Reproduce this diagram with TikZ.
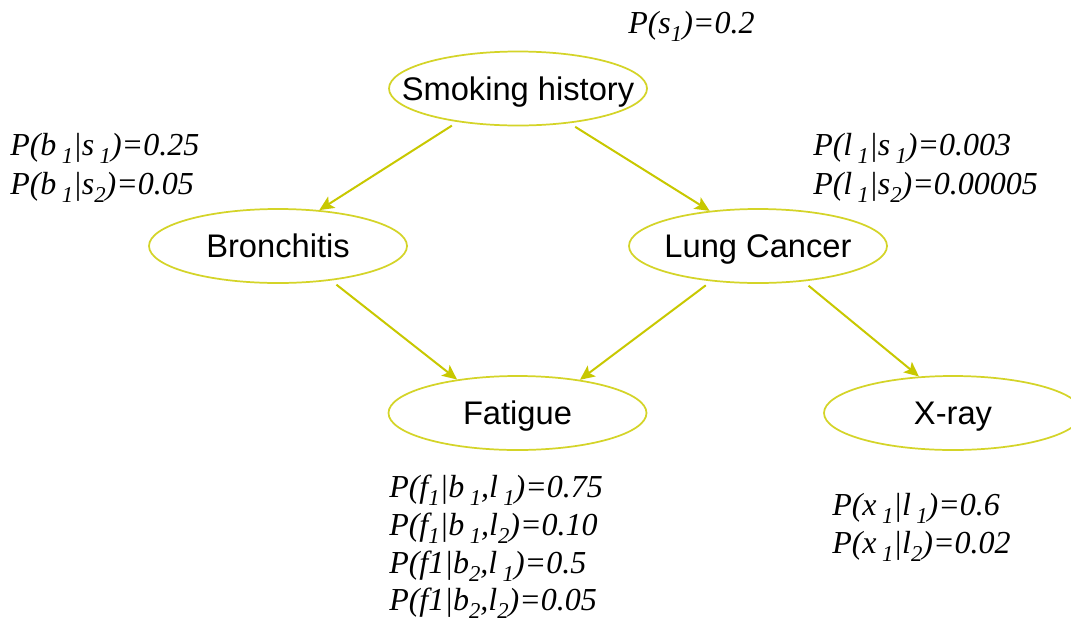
\documentclass[tikz,border=0pt]{standalone}
\usepackage{fontspec}
\usetikzlibrary{arrows.meta,shapes.geometric}
\setmainfont{Liberation Serif}
\newfontfamily\nodefont{Liberation Sans}
\newfontfamily\probfont{Liberation Serif}
% lowered, smaller index such as the 1 in s_1
\newcommand\idx[1]{\raisebox{-0.28em}{\fontsize{17}{17}\selectfont #1}}
% label of fixed-size ellipse: zero width so the outline keeps its size
\newcommand\vlabel[1]{\makebox[0pt]{#1}}
\definecolor{edgecol}{RGB}{200,200,0}
\definecolor{ringcol}{RGB}{212,212,40}
\tikzset{
  var/.style={ellipse, draw=ringcol, line width=1.3pt, minimum width=193.5pt,
    minimum height=55.5pt, inner sep=0pt, text height=17.5pt, text depth=0pt,
    font=\nodefont\fontsize{24.5}{28}\selectfont},
  link/.style={draw=edgecol, line width=1.5pt, shorten <=5pt,
    -{Stealth[length=11pt,width=10pt,inset=2.5pt]}},
  prob/.style={anchor=base west, inner sep=0pt,
    font=\probfont\itshape\fontsize{24}{28}\selectfont}
}
\begin{document}
\begin{tikzpicture}[x=0.75pt,y=-0.75pt]
\clip (0,0) rectangle (1071,622);
\fill[white] (0,0) rectangle (1071,622);

% variables of the network
\node[var] (smoke) at (518,88.5) {\vlabel{Smoking history}};
\node[var] (bron)  at (278,246) {\vlabel{Bronchitis}};
\node[var] (lung)  at (758,246) {\vlabel{Lung Cancer}};
\node[var] (fat)   at (517.5,413) {\vlabel{Fatigue}};
\node[var] (xray)  at (953,413) {\vlabel{X-ray}};

% causal links
\draw[link] (smoke.209) -- (bron.41);
\draw[link] (smoke.326) -- (lung.144);
\draw[link] (bron.327)  -- (fat.151);
\draw[link] (lung.217)  -- (fat.28);
\draw[link] (lung.322)  -- (xray.133);

% probability tables
\node[prob] (ps)  at (628,33)  {P(s\idx{1})=0.2};
\node[prob] (pb1) at (10,155)  {P(b\,\idx{1}|s\,\idx{1})=0.25};
\node[prob] (pb2) at (10,194)  {P(b\,\idx{1}|s\idx{2})=0.05};
\node[prob] (pl1) at (813,155) {P(l\,\idx{1}|s\,\idx{1})=0.003};
\node[prob] (pl2) at (813,194) {P(l\,\idx{1}|s\idx{2})=0.00005};
\node[prob] (pf1) at (389,497) {P(f\idx{1}|b\,\idx{1},l\,\idx{1})=0.75};
\node[prob] (pf2) at (389,535) {P(f\idx{1}|b\,\idx{1},l\idx{2})=0.10};
\node[prob] (pf3) at (389,573) {P(f1|b\idx{2},l\,\idx{1})=0.5};
\node[prob] (pf4) at (389,610) {P(f1|b\idx{2},l\idx{2})=0.05};
\node[prob] (px1) at (832,515) {P(x\,\idx{1}|l\,\idx{1})=0.6};
\node[prob] (px2) at (832,553) {P(x\,\idx{1}|l\idx{2})=0.02};
\end{tikzpicture}
\end{document}
